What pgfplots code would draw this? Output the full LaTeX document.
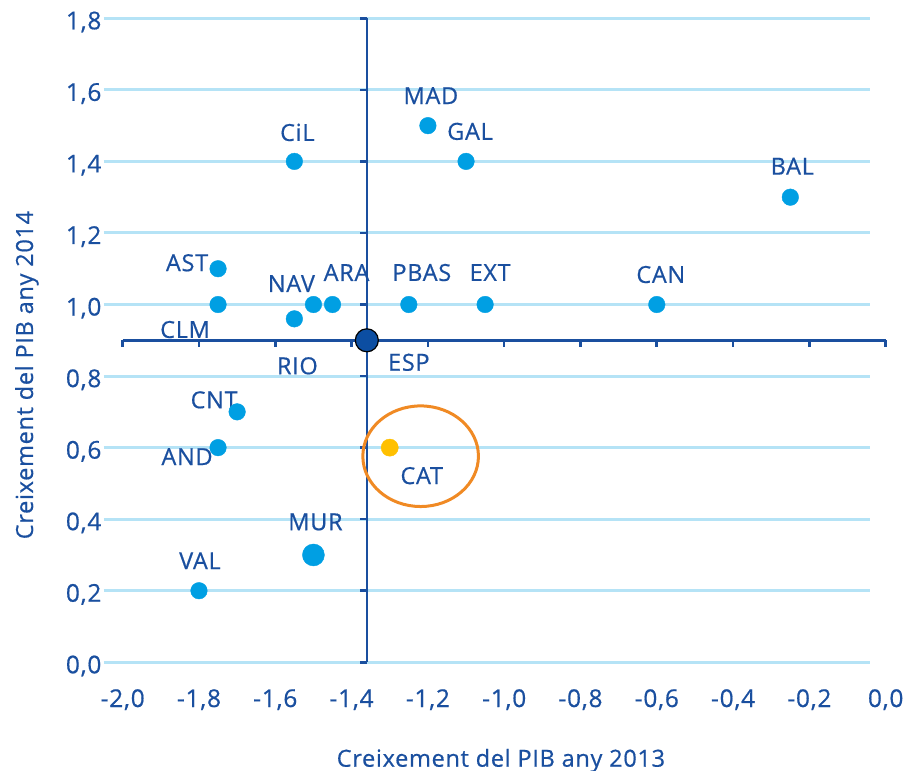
\documentclass[border=0pt]{standalone}
\usepackage{fontspec}
\setmainfont{Open Sans}[LetterSpace=3, FakeBold=0.6]
\usepackage{pgfplots}
\pgfplotsset{compat=1.18}
\definecolor{txtblue}{HTML}{1A4F9F}
\definecolor{dotblue}{HTML}{009FE3}
\definecolor{gridblue}{HTML}{B5E3F6}
\definecolor{espblue}{HTML}{0C4EA2}
\definecolor{catyellow}{HTML}{FFC000}
\definecolor{ringorange}{HTML}{F08A24}
\newcommand\lab{\fontsize{23.5bp}{27bp}\selectfont}
\newcommand\tik{\fontsize{24.5bp}{28bp}\selectfont}

\begin{document}
\begin{tikzpicture}[lbl/.style={font=\lab, text=txtblue, inner sep=0pt, anchor=center}]
\path[use as bounding box] (-103.6bp,-108.7bp) rectangle (807.4bp,662.3bp);
\begin{axis}[
  scale only axis,
  width=782.1bp, height=644bp,
  xmin=-2.05, xmax=0, ymin=0, ymax=1.8,
  clip=false,
  axis line style={draw=none},
  major tick length=0pt,
  xtick={-2,-1.8,-1.6,-1.4,-1.2,-1,-0.8,-0.6,-0.4,-0.2,0},
  ytick={0,0.2,0.4,0.6,0.8,1,1.2,1.4,1.6,1.8},
  /pgf/number format/use comma,
  /pgf/number format/fixed,
  /pgf/number format/fixed zerofill,
  /pgf/number format/precision=1,
  /pgf/number format/assume math mode=true,
  tick label style={font=\tik, text=txtblue, inner sep=0pt},
  xticklabel style={anchor=base, yshift=-44.7bp},
  yticklabel style={anchor=base east, xshift=-2bp, yshift=-11bp},
  xlabel={Creixement del PIB any 2013},
  ylabel={Creixement del PIB any 2014},
  label style={font=\lab, text=txtblue, inner sep=0pt},
  xlabel style={at={(axis description cs:0.508,-0.1621)}, anchor=base},
  ylabel style={at={(axis description cs:-0.0903,0.446)}, anchor=base},
]
% light blue horizontal grid
\pgfplotsinvokeforeach{0,0.2,0.4,0.6,0.8,1.0,1.2,1.4,1.6,1.8}{
  \draw[gridblue, line width=3bp] (axis cs:-2.05,#1) -- (axis cs:-0.04,#1);
}

% crossing axes at Spain
\draw[txtblue, line width=2.6bp] (axis cs:-2,0.9) -- (axis cs:0,0.9);
\pgfplotsinvokeforeach{-2,-1.8,-1.6,-1.4,-1.2,-1,-0.8,-0.6,-0.4,-0.2,0}{
  \draw[txtblue, line width=2.6bp] (axis cs:#1,0.9) -- ++(0bp,-7bp);
}
\draw[txtblue, line width=2.6bp] (axis cs:-1.36,0) -- (axis cs:-1.36,1.8);
\pgfplotsinvokeforeach{0,0.2,0.4,0.6,0.8,1.0,1.2,1.4,1.6,1.8}{
  \draw[txtblue, line width=2.6bp] (axis cs:-1.36,#1) -- ++(-7bp,0bp);
}

% regions
\addplot[only marks, mark=*, mark size=8.3bp, color=dotblue] coordinates {
  (-1.55,1.4) (-1.2,1.5) (-1.1,1.4) (-0.25,1.3)
  (-1.75,1.1) (-1.75,1.0) (-1.5,1.0) (-1.45,1.0)
  (-1.25,1.0) (-1.05,1.0) (-0.6,1.0) (-1.55,0.96)
  (-1.7,0.7) (-1.75,0.6) (-1.8,0.2)
};
\addplot[only marks, mark=*, mark size=11bp, color=dotblue] coordinates {(-1.5,0.3)};
\addplot[only marks, mark=*, mark size=8.6bp, color=catyellow] coordinates {(-1.3,0.6)};
\addplot[only marks, mark=*, mark size=11.5bp, draw=black, fill=espblue, line width=1.2bp] coordinates {(-1.36,0.9)};

\draw[ringorange, line width=3bp] (axis cs:-1.219,0.576) ellipse [x radius=57.8bp, y radius=50.3bp];

% labels
\node[lbl] at (axis cs:-1.55,1.4) [xshift=3bp, yshift=29bp] {CiL};
\node[lbl] at (axis cs:-1.2,1.5) [xshift=3bp, yshift=30bp] {MAD};
\node[lbl] at (axis cs:-1.1,1.4) [xshift=4bp, yshift=30bp] {GAL};
\node[lbl] at (axis cs:-0.25,1.3) [xshift=2bp, yshift=31bp] {BAL};
\node[lbl] at (axis cs:-1.75,1.1) [xshift=-31bp, yshift=6bp] {AST};
\node[lbl] at (axis cs:-1.75,1.0) [xshift=-33bp, yshift=-25bp] {CLM};
\node[lbl] at (axis cs:-1.5,1.0) [xshift=-22bp, yshift=21bp] {NAV};
\node[lbl] at (axis cs:-1.45,1.0) [xshift=14bp, yshift=32bp] {ARA};
\node[lbl] at (axis cs:-1.25,1.0) [xshift=13bp, yshift=32bp] {PBAS};
\node[lbl] at (axis cs:-1.05,1.0) [xshift=5bp, yshift=32bp] {EXT};
\node[lbl] at (axis cs:-0.6,1.0) [xshift=4bp, yshift=30bp] {CAN};
\node[lbl] at (axis cs:-1.55,0.96) [xshift=3bp, yshift=-47bp] {RIO};
\node[lbl] at (axis cs:-1.36,0.9) [xshift=42bp, yshift=-22bp] {ESP};
\node[lbl] at (axis cs:-1.7,0.7) [xshift=-23bp, yshift=12bp] {CNT};
\node[lbl] at (axis cs:-1.75,0.6) [xshift=-31bp, yshift=-9bp] {AND};
\node[lbl] at (axis cs:-1.3,0.6) [xshift=32bp, yshift=-28bp] {CAT};
\node[lbl] at (axis cs:-1.5,0.3) [xshift=2bp, yshift=33bp] {MUR};
\node[lbl] at (axis cs:-1.8,0.2) [xshift=1bp, yshift=30bp] {VAL};
\end{axis}
\end{tikzpicture}
\end{document}
